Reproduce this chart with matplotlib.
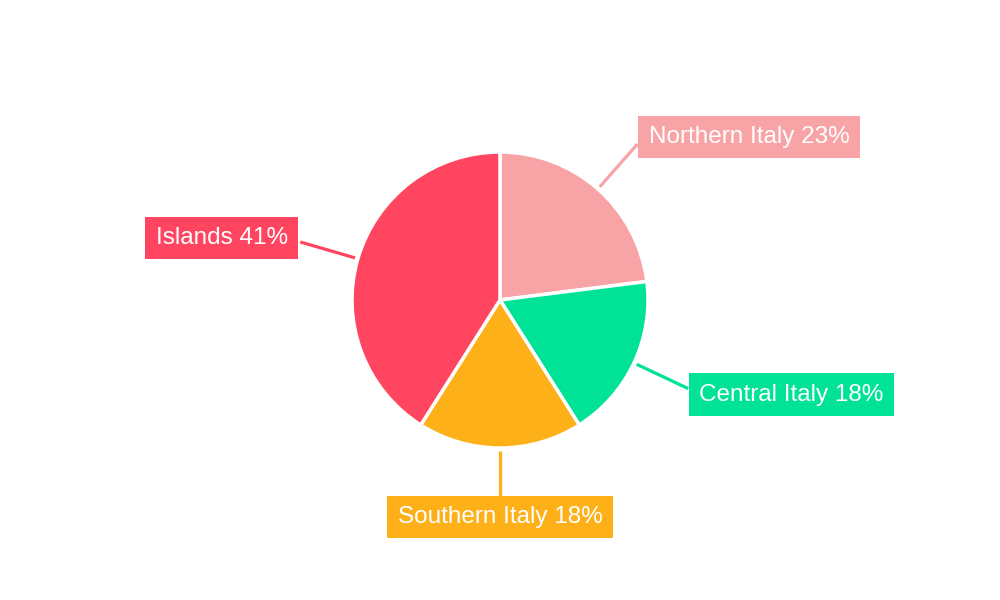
import matplotlib
matplotlib.use("Agg")
import matplotlib.pyplot as plt
import numpy as np

categories = ["Northern Italy", "Central Italy", "Southern Italy", "Islands"]
values = [23, 18, 18, 41]
colors = ["#F8A4A6", "#00E396", "#FEB019", "#FF4560"]

plt.rcParams['font.family'] = ['Liberation Sans', 'DejaVu Sans']

fig = plt.figure(figsize=(10, 6), dpi=100)
ax = fig.add_axes([0, 0, 1, 1])

R = 148
wedges, _ = ax.pie(values, colors=colors, startangle=90, counterclock=False,
                   radius=R, center=(0, 0),
                   wedgeprops=dict(edgecolor='white', linewidth=2.5))
ax.set_xlim(-500, 500)
ax.set_ylim(-300, 300)
ax.set_aspect('equal')
ax.axis('off')

total = sum(values)
for w, cat, val, col in zip(wedges, categories, values, colors):
    ang = np.deg2rad((w.theta1 + w.theta2) / 2)
    c, s = np.cos(ang), np.sin(ang)
    r0, r1 = R + 3, R + 60
    x0, y0 = r0 * c, r0 * s
    x1, y1 = r1 * c, r1 * s
    if c > 0.3:
        ha, dx = 'left', 11
    elif c < -0.3:
        ha, dx = 'right', -12.5
    else:
        ha, dx = 'center', 0
    if s > 0.5:
        va, dy = 'bottom', -4
    elif s < -0.5:
        va, dy = 'top', 2
    else:
        va, dy = 'center', 14 * s
    ax.plot([x0, x1], [y0, y1], color=col, lw=2.3, solid_capstyle='butt', zorder=1)
    pct = round(val / total * 100)
    ax.text(x1 + dx, y1 + dy, f"{cat} {pct}%", ha=ha, va=va, color='white',
            fontsize=17.5, zorder=3,
            bbox=dict(boxstyle='square,pad=0.42', fc=col, ec='none'))

fig.savefig("out.png", dpi=100)
